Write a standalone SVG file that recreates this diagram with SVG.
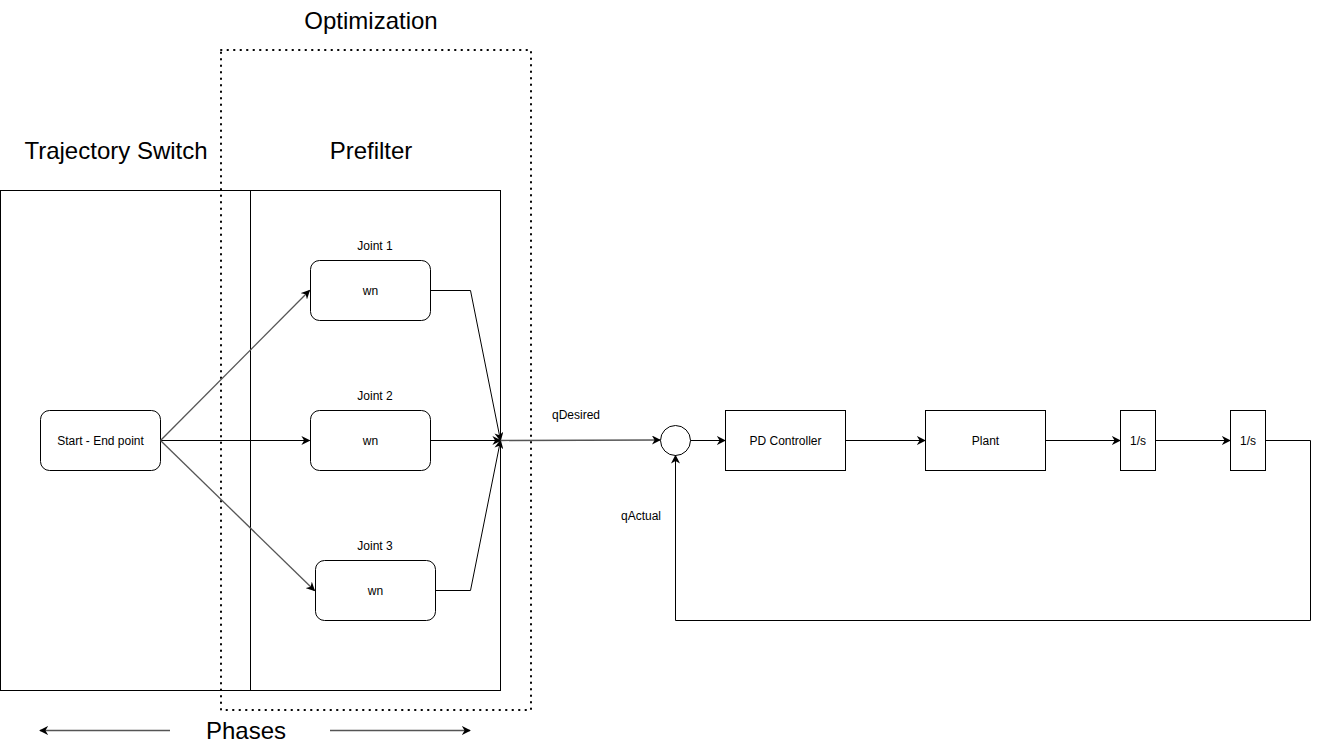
<svg xmlns="http://www.w3.org/2000/svg" width="1319" height="750" viewBox="0 0 1319 750">
<style>
text{font-family:"Liberation Sans",Arial,sans-serif;fill:#000;text-anchor:middle}
.big{font-size:24px}
.sm{font-size:12px}
.box{fill:#fff;stroke:#000;stroke-width:1}
.ln{fill:none;stroke:#000;stroke-width:1}
.gr{fill:none;stroke:#555;stroke-width:1.3}
</style>
<defs>
<marker id="ah" viewBox="0 0 10 10" refX="9" refY="5" markerWidth="9" markerHeight="9" markerUnits="userSpaceOnUse" orient="auto"><path d="M0,0 L10,5 L0,10 L3,5 Z" fill="#000"/></marker>
</defs>
<rect width="1319" height="750" fill="#fff"/>
<g id="lanes">
<rect x="0.5" y="190.5" width="250" height="500" class="ln"/>
<rect x="250.5" y="190.5" width="250" height="500" class="ln"/>
<rect x="221" y="50" width="310" height="660" fill="none" stroke="#000" stroke-width="2" stroke-dasharray="0.5 6" stroke-linecap="round"/>
<text class="big" x="116" y="159">Trajectory Switch</text>
<text class="big" x="371" y="159">Prefilter</text>
<text class="big" x="371" y="29">Optimization</text>
</g>
<g id="start"><rect x="40.5" y="410.5" width="120" height="60" rx="9" class="box"/><text class="sm" x="100.5" y="444.5">Start - End point</text></g>
<g id="joint1"><rect x="310.5" y="260.5" width="120" height="60" rx="9" class="box"/><text class="sm" x="370.5" y="294.5">wn</text><text class="sm" x="375" y="249.5">Joint 1</text></g>
<g id="joint2"><rect x="310.5" y="410.5" width="120" height="60" rx="9" class="box"/><text class="sm" x="370.5" y="444.5">wn</text><text class="sm" x="375" y="399.5">Joint 2</text></g>
<g id="joint3"><rect x="315.5" y="560.5" width="120" height="60" rx="9" class="box"/><text class="sm" x="375.5" y="594.5">wn</text><text class="sm" x="375" y="549.5">Joint 3</text></g>
<g id="sum"><circle cx="675.5" cy="440.5" r="15" class="box"/></g>
<g id="pd"><rect x="725.5" y="410.5" width="120" height="60" class="box"/><text class="sm" x="785.5" y="444.5">PD Controller</text></g>
<g id="plant"><rect x="925.5" y="410.5" width="120" height="60" class="box"/><text class="sm" x="985.5" y="444.5">Plant</text></g>
<g id="int1"><rect x="1120.5" y="410.5" width="35" height="60" class="box"/><text class="sm" x="1138" y="444.5">1/s</text></g>
<g id="int2"><rect x="1230.5" y="410.5" width="35" height="60" class="box"/><text class="sm" x="1248" y="444.5">1/s</text></g>
<g id="connectors">
<path d="M160.5,440.5 L309.5,290.5" class="gr" marker-end="url(#ah)"/>
<path d="M160.5,440.5 L309.5,440.5" class="ln" marker-end="url(#ah)"/>
<path d="M160.5,440.5 L314.5,590.5" class="gr" marker-end="url(#ah)"/>
<path d="M430.5,290.5 L470.5,290.5 L500.5,440.5" class="ln" marker-end="url(#ah)"/>
<path d="M430.5,440.5 L500.5,440.5" class="ln" marker-end="url(#ah)"/>
<path d="M435.5,590.5 L470.5,590.5 L500.5,440.5" class="ln" marker-end="url(#ah)"/>
<path d="M500.5,440.5 L660,440" class="gr" marker-end="url(#ah)"/>
<text class="sm" x="576" y="419">qDesired</text>
<path d="M690.5,440.5 L725,440.5" class="ln" marker-end="url(#ah)"/>
<path d="M845.5,440.5 L925,440.5" class="ln" marker-end="url(#ah)"/>
<path d="M1045.5,440.5 L1120,440.5" class="ln" marker-end="url(#ah)"/>
<path d="M1155.5,440.5 L1230,440.5" class="ln" marker-end="url(#ah)"/>
<path d="M1265.5,440.5 L1310.5,440.5 L1310.5,620.5 L675.5,620.5 L675.5,455.5" class="ln" marker-end="url(#ah)"/>
<text class="sm" x="641" y="520">qActual</text>
<path d="M170,730.5 L40,730.5" class="gr" marker-end="url(#ah)"/>
<path d="M330,730.5 L470,730.5" class="gr" marker-end="url(#ah)"/>
<text class="big" x="246" y="739">Phases</text>
</g>
</svg>
